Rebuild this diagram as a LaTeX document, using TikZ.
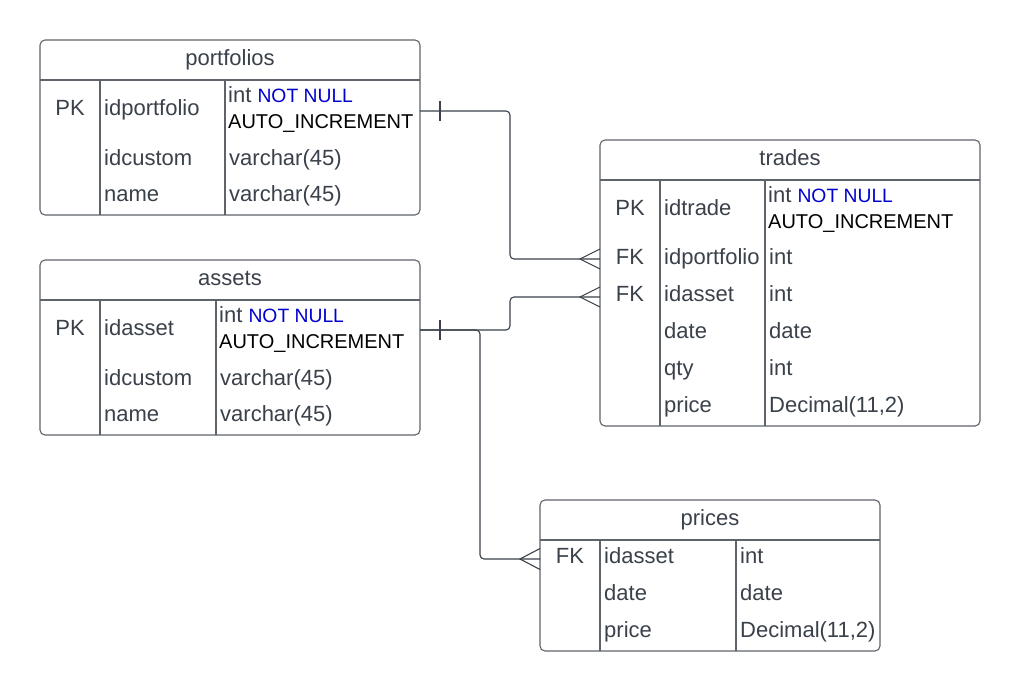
\documentclass[tikz,border=0pt]{standalone}
\usepackage{fontspec}
\setmainfont{Liberation Sans}
\definecolor{linec}{RGB}{95,99,106}
\definecolor{connc}{RGB}{58,65,74}
\definecolor{txtc}{RGB}{58,65,74}
\definecolor{blu}{RGB}{0,0,205}
\newcommand{\nnull}{{\fontsize{19.3}{23}\selectfont\textcolor{blu}{NOT NULL}}}
\tikzset{
  tbl/.style={draw=linec, line width=1.1pt, rounded corners=5pt, inner sep=0pt, outer sep=0pt, anchor=north west},
  sepline/.style={draw=linec, line width=1.1pt},
  txt/.style={inner sep=0pt, text=txtc, font=\fontsize{22}{26}\selectfont, anchor=base west},
  ctxt/.style={txt, anchor=base},
  small/.style={inner sep=0pt, font=\fontsize{20}{24}\selectfont, anchor=base west},
  conn/.style={draw=connc, line width=1.1pt, rounded corners=4pt},
  endmark/.style={draw=connc, line width=1.1pt},
}
\begin{document}
\begin{tikzpicture}[x=1pt,y=-1pt]
\fill[white] (0,0) rectangle (1020,691);
\useasboundingbox (0,0) rectangle (1020,691);

% ---------- portfolios ----------
\node[tbl, minimum width=380pt, minimum height=175pt] (portfolios) at (40,40) {};
\draw[sepline] (portfolios.west |- 0,80) -- (portfolios.east |- 0,80);
\draw[sepline] (100,80) -- (100,215);
\draw[sepline] (225,80) -- (225,215);
\node[ctxt] (pf-title) at (230,65) {portfolios};
\node[ctxt] (pf-pk) at (70,115) {PK};
\node[txt] (pf-n1) at (104,115) {idportfolio};
\node[txt] (pf-t1a) at (228,102) {int \nnull};
\node[small, text=black] (pf-t1b) at (228,128) {AUTO\_INCREMENT};
\node[txt] (pf-n2) at (104,165) {idcustom};
\node[txt] (pf-t2) at (229,165) {varchar(45)};
\node[txt] (pf-n3) at (104,201) {name};
\node[txt] (pf-t3) at (229,201) {varchar(45)};

% ---------- assets ----------
\node[tbl, minimum width=380pt, minimum height=175pt] (assets) at (40,260) {};
\draw[sepline] (assets.west |- 0,300) -- (assets.east |- 0,300);
\draw[sepline] (100,300) -- (100,435);
\draw[sepline] (216,300) -- (216,435);
\node[ctxt] (as-title) at (230,285) {assets};
\node[ctxt] (as-pk) at (70,335) {PK};
\node[txt] (as-n1) at (104,335) {idasset};
\node[txt] (as-t1a) at (219,322) {int \nnull};
\node[small, text=black] (as-t1b) at (219,348) {AUTO\_INCREMENT};
\node[txt] (as-n2) at (104,385) {idcustom};
\node[txt] (as-t2) at (220,385) {varchar(45)};
\node[txt] (as-n3) at (104,421) {name};
\node[txt] (as-t3) at (220,421) {varchar(45)};

% ---------- trades ----------
\node[tbl, minimum width=380pt, minimum height=286pt] (trades) at (600,140) {};
\draw[sepline] (trades.west |- 0,180) -- (trades.east |- 0,180);
\draw[sepline] (660,180) -- (660,426);
\draw[sepline] (765,180) -- (765,426);
\node[ctxt] (tr-title) at (790,165) {trades};
\node[ctxt] (tr-pk) at (630,215) {PK};
\node[txt] (tr-n1) at (664,215) {idtrade};
\node[txt] (tr-t1a) at (768,202) {int \nnull};
\node[small, text=black] (tr-t1b) at (768,228) {AUTO\_INCREMENT};
\node[ctxt] (tr-fk1) at (630,264) {FK};
\node[txt] (tr-n2) at (664,264) {idportfolio};
\node[txt] (tr-t2) at (769,264) {int};
\node[ctxt] (tr-fk2) at (630,301) {FK};
\node[txt] (tr-n3) at (664,301) {idasset};
\node[txt] (tr-t3) at (769,301) {int};
\node[txt] (tr-n4) at (664,338) {date};
\node[txt] (tr-t4) at (769,338) {date};
\node[txt] (tr-n5) at (664,375) {qty};
\node[txt] (tr-t5) at (769,375) {int};
\node[txt] (tr-n6) at (664,412) {price};
\node[txt] (tr-t6) at (769,412) {Decimal(11,2)};

% ---------- prices ----------
\node[tbl, minimum width=340pt, minimum height=151pt] (prices) at (540,500) {};
\draw[sepline] (prices.west |- 0,540) -- (prices.east |- 0,540);
\draw[sepline] (600,540) -- (600,651);
\draw[sepline] (736,540) -- (736,651);
\node[ctxt] (pr-title) at (710,525) {prices};
\node[ctxt] (pr-fk) at (570,563) {FK};
\node[txt] (pr-n1) at (604,563) {idasset};
\node[txt] (pr-t1) at (740,563) {int};
\node[txt] (pr-n2) at (604,600) {date};
\node[txt] (pr-t2) at (740,600) {date};
\node[txt] (pr-n3) at (604,637) {price};
\node[txt] (pr-t3) at (740,637) {Decimal(11,2)};

% ---------- connection points ----------
\coordinate (pf-out) at (portfolios.east |- 0,111);
\coordinate (as-out) at (assets.east |- 0,330);
\coordinate (tr-in1) at (trades.west |- 0,259);
\coordinate (tr-in2) at (trades.west |- 0,297);
\coordinate (pr-in) at (prices.west |- 0,559);

% ---------- connectors ----------
\draw[conn] (pf-out) -- (510,111) -- (510,259) -- (tr-in1);
\draw[conn] (as-out) -- (510,330) -- (510,297) -- (tr-in2);
\draw[conn] (as-out) -- (480,330) -- (480,559) -- (pr-in);

% one marks
\draw[endmark] ([xshift=20pt,yshift=10pt]pf-out) -- ([xshift=20pt,yshift=-10pt]pf-out);
\draw[endmark] ([xshift=20pt,yshift=10pt]as-out) -- ([xshift=20pt,yshift=-10pt]as-out);

% crow's feet
\draw[endmark] ([yshift=10pt]tr-in1) -- ([xshift=-20pt]tr-in1) -- ([yshift=-10pt]tr-in1);
\draw[endmark] ([yshift=10pt]tr-in2) -- ([xshift=-20pt]tr-in2) -- ([yshift=-10pt]tr-in2);
\draw[endmark] ([yshift=10.5pt]pr-in) -- ([xshift=-20pt]pr-in) -- ([yshift=-10.5pt]pr-in);
\end{tikzpicture}
\end{document}
